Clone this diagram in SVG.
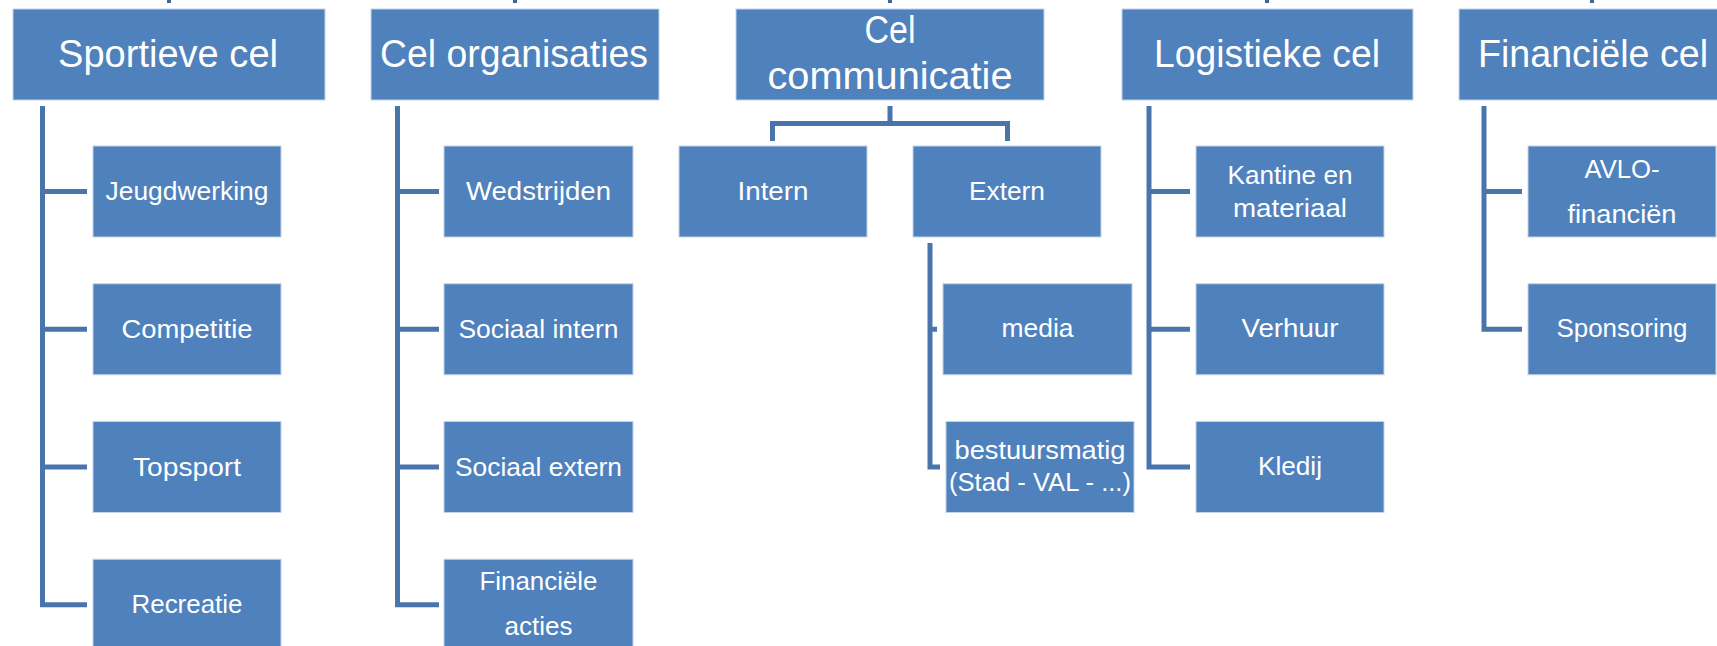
<svg xmlns="http://www.w3.org/2000/svg" width="1717" height="646" viewBox="0 0 1717 646">
<style>
.b{fill:#4F81BD;stroke:#C3D3E9;stroke-width:1}
.h{font-family:"Liberation Sans",Arial,sans-serif;font-size:39px;fill:#FFFFFF;text-anchor:middle}
.t{font-family:"Liberation Sans",Arial,sans-serif;font-size:25px;fill:#FFFFFF;text-anchor:middle}
.c{fill:none;stroke:#4A74AC;stroke-width:5}
.s{fill:none;stroke:#3F6699;stroke-width:4}
</style>
<rect width="1717" height="646" fill="#FFFFFF"/>
<g id="connectors">
<path class="s" d="M169,0V3M515,0V3M890,0V3M1267,0V3M1592,0V3"/>
<path class="c" d="M42.5,106V604.75H87M42.5,191.5H87M42.5,329.25H87M42.5,467H87"/>
<path class="c" d="M397.5,106V604.75H439M397.5,191.5H439M397.5,329.25H439M397.5,467H439"/>
<path class="c" d="M890,106V123.5M772.5,141V123.5H1007.5V141"/>
<path class="c" d="M930,243V467H940M930,329.25H937"/>
<path class="c" d="M1149,106V467H1190M1149,191.5H1190M1149,329.25H1190"/>
<path class="c" d="M1484,106V329.25H1522M1484,191.5H1522"/>
</g>
<g id="sportieve-cel"><rect class="b" x="13" y="9" width="312" height="91"/><text class="h" x="168" y="67" textLength="220" lengthAdjust="spacingAndGlyphs">Sportieve cel</text></g>
<g id="jeugdwerking"><rect class="b" x="93" y="146" width="188" height="91"/><text class="t" x="187" y="200" textLength="163" lengthAdjust="spacingAndGlyphs">Jeugdwerking</text></g>
<g id="competitie"><rect class="b" x="93" y="283.75" width="188" height="91"/><text class="t" x="187" y="338" textLength="131" lengthAdjust="spacingAndGlyphs">Competitie</text></g>
<g id="topsport"><rect class="b" x="93" y="421.5" width="188" height="91"/><text class="t" x="187" y="476" textLength="108" lengthAdjust="spacingAndGlyphs">Topsport</text></g>
<g id="recreatie"><rect class="b" x="93" y="559.25" width="188" height="91"/><text class="t" x="187" y="613" textLength="111" lengthAdjust="spacingAndGlyphs">Recreatie</text></g>

<g id="cel-organisaties"><rect class="b" x="371" y="9" width="288" height="91"/><text class="h" x="514" y="67" textLength="268" lengthAdjust="spacingAndGlyphs">Cel organisaties</text></g>
<g id="wedstrijden"><rect class="b" x="444" y="146" width="189" height="91"/><text class="t" x="538.5" y="200" textLength="145" lengthAdjust="spacingAndGlyphs">Wedstrijden</text></g>
<g id="sociaal-intern"><rect class="b" x="444" y="283.75" width="189" height="91"/><text class="t" x="538.5" y="338" textLength="160" lengthAdjust="spacingAndGlyphs">Sociaal intern</text></g>
<g id="sociaal-extern"><rect class="b" x="444" y="421.5" width="189" height="91"/><text class="t" x="538.5" y="476" textLength="167" lengthAdjust="spacingAndGlyphs">Sociaal extern</text></g>
<g id="financiele-acties"><rect class="b" x="444" y="559.25" width="189" height="91"/><text class="t" x="538.5" y="590" textLength="118" lengthAdjust="spacingAndGlyphs">Financiële</text><text class="t" x="538.5" y="635" textLength="68" lengthAdjust="spacingAndGlyphs">acties</text></g>

<g id="cel-communicatie"><rect class="b" x="736" y="9" width="308" height="91"/><text class="h" x="890" y="43" textLength="51" lengthAdjust="spacingAndGlyphs">Cel</text><text class="h" x="890" y="89" textLength="245" lengthAdjust="spacingAndGlyphs">communicatie</text></g>
<g id="intern"><rect class="b" x="679" y="146" width="188" height="91"/><text class="t" x="773" y="200" textLength="71" lengthAdjust="spacingAndGlyphs">Intern</text></g>
<g id="extern"><rect class="b" x="913" y="146" width="188" height="91"/><text class="t" x="1007" y="200" textLength="76" lengthAdjust="spacingAndGlyphs">Extern</text></g>
<g id="media"><rect class="b" x="943" y="283.75" width="189" height="91"/><text class="t" x="1037.5" y="337" textLength="72" lengthAdjust="spacingAndGlyphs">media</text></g>
<g id="bestuursmatig"><rect class="b" x="946" y="421.5" width="188" height="91"/><text class="t" x="1040" y="459" textLength="171" lengthAdjust="spacingAndGlyphs">bestuursmatig</text><text class="t" x="1040" y="491" textLength="182" lengthAdjust="spacingAndGlyphs">(Stad - VAL - ...)</text></g>

<g id="logistieke-cel"><rect class="b" x="1122" y="9" width="291" height="91"/><text class="h" x="1267" y="67" textLength="226" lengthAdjust="spacingAndGlyphs">Logistieke cel</text></g>
<g id="kantine"><rect class="b" x="1196" y="146" width="188" height="91"/><text class="t" x="1290" y="184" textLength="125" lengthAdjust="spacingAndGlyphs">Kantine en</text><text class="t" x="1290" y="217" textLength="114" lengthAdjust="spacingAndGlyphs">materiaal</text></g>
<g id="verhuur"><rect class="b" x="1196" y="283.75" width="188" height="91"/><text class="t" x="1290" y="337" textLength="97" lengthAdjust="spacingAndGlyphs">Verhuur</text></g>
<g id="kledij"><rect class="b" x="1196" y="421.5" width="188" height="91"/><text class="t" x="1290" y="475" textLength="64" lengthAdjust="spacingAndGlyphs">Kledij</text></g>

<g id="financiele-cel"><rect class="b" x="1459" y="9" width="266" height="91"/><text class="h" x="1593" y="67" textLength="230" lengthAdjust="spacingAndGlyphs">Financiële cel</text></g>
<g id="avlo"><rect class="b" x="1528" y="146" width="188" height="91"/><text class="t" x="1622" y="178" textLength="75" lengthAdjust="spacingAndGlyphs">AVLO-</text><text class="t" x="1622" y="223" textLength="109" lengthAdjust="spacingAndGlyphs">financiën</text></g>
<g id="sponsoring"><rect class="b" x="1528" y="283.75" width="188" height="91"/><text class="t" x="1622" y="337" textLength="131" lengthAdjust="spacingAndGlyphs">Sponsoring</text></g>
</svg>
